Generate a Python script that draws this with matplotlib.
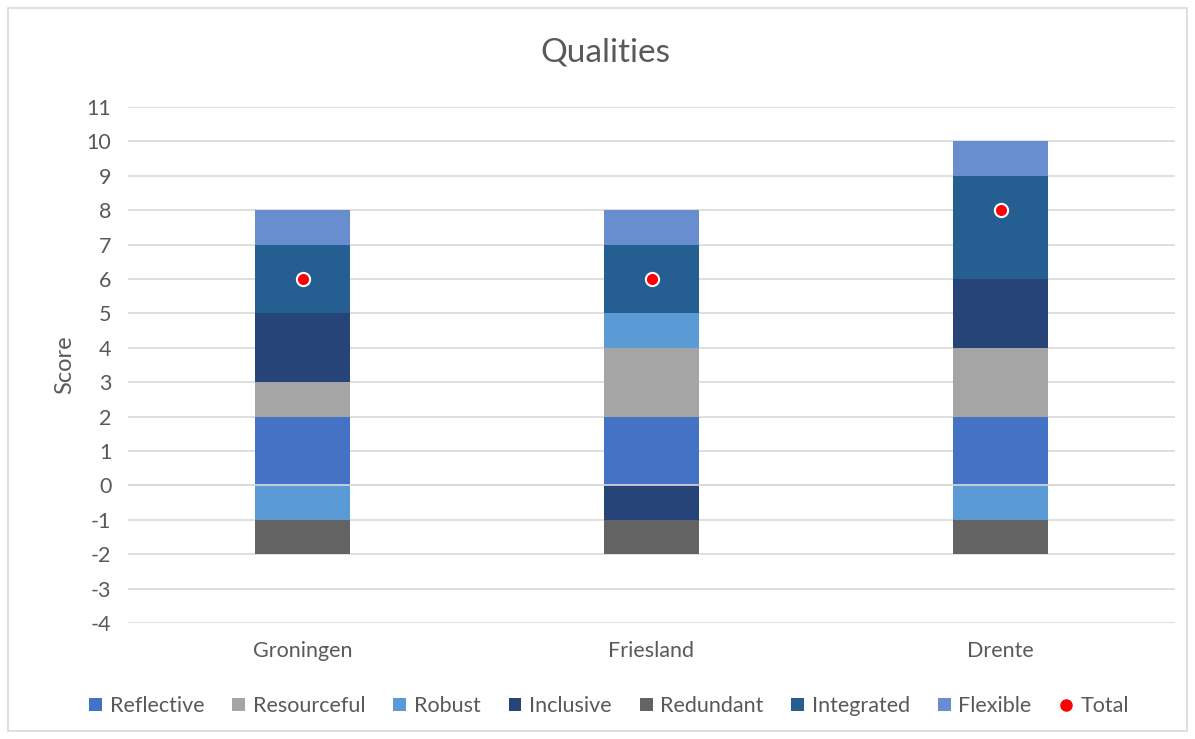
import matplotlib
matplotlib.use("Agg")
import matplotlib.pyplot as plt
from matplotlib.patches import Patch, Rectangle
from matplotlib.lines import Line2D
import numpy as np

plt.rcParams['font.family'] = ['Lato', 'DejaVu Sans']

categories = ["Groningen", "Friesland", "Drente"]
series_names = ["Reflective", "Resourceful", "Robust", "Inclusive", "Redundant", "Integrated", "Flexible"]
reflective = [2, 2, 2]
resourceful = [1, 2, 2]
robust = [-1, 1, -1]
inclusive = [2, -1, 2]
redundant = [-1, -1, -1]
integrated = [2, 2, 3]
flexible = [1, 1, 1]
total = [6, 6, 8]
yticks = list(range(-4, 12))

series_values = [reflective, resourceful, robust, inclusive, redundant, integrated, flexible]
colors = ["#4472C4", "#A5A5A5", "#5B9BD5", "#264478", "#636363", "#255E91", "#698ED0"]
text_color = "#595959"

fig = plt.figure(figsize=(11.95, 7.39), dpi=100)
fig.patches.append(Rectangle((8/1195, 1-731/739), 1179/1195, 723/739, transform=fig.transFigure,
                             fill=False, edgecolor="#D9D9D9", linewidth=1.2))
ax = fig.add_axes([128/1195, 1-623/739, (1175-128)/1195, (623-107)/739])

x = np.arange(len(categories))
width = 0.27
pos_base = np.zeros(len(categories))
neg_base = np.zeros(len(categories))
for name, vals, c in zip(series_names, series_values, colors):
    vals = np.array(vals, dtype=float)
    bottoms = np.where(vals >= 0, pos_base, neg_base)
    ax.bar(x, vals, width, bottom=bottoms, color=c, zorder=2, label=name)
    pos_base = pos_base + np.where(vals >= 0, vals, 0)
    neg_base = neg_base + np.where(vals < 0, vals, 0)

ax.scatter(x, total, s=90, color="#FF0000", edgecolor="white", linewidth=1.5, zorder=4)
ax.axhline(0, color="#D9D9D9", linewidth=1.2, zorder=3)

ax.set_xlim(-0.5, len(categories) - 0.5)
ax.set_ylim(-4, 11)
ax.set_yticks(yticks)
ax.set_yticklabels([str(t) for t in yticks])
ax.yaxis.grid(True, color="#D9D9D9", linewidth=1.2, zorder=0)
ax.set_axisbelow(True)
for s in ax.spines.values():
    s.set_visible(False)
ax.tick_params(axis='both', length=0, labelsize=15.5, colors=text_color)
ax.tick_params(axis='y', pad=12)
ax.tick_params(axis='x', pad=13)
ax.set_xticks(x)
ax.set_xticklabels(categories)
ax.set_ylabel("Score", fontsize=17, color=text_color, labelpad=8)

fig.text(605/1195, 1-53/739, "Qualities", ha="center", va="center", fontsize=24, color=text_color)

handles = [Patch(facecolor=c, edgecolor='none', label=n) for n, c in zip(series_names, colors)]
handles.append(Line2D([], [], marker='o', color='none', markerfacecolor='#FF0000',
                      markeredgecolor='#FF0000', markersize=8, label='Total'))
fig.legend(handles=handles, loc='center', bbox_to_anchor=(609/1195, 1-706/739), ncol=8,
           frameon=False, fontsize=15.5, labelcolor=text_color, handlelength=0.6, handleheight=0.6,
           handletextpad=0.35, columnspacing=1.3)

fig.savefig("out.png", dpi=100)
